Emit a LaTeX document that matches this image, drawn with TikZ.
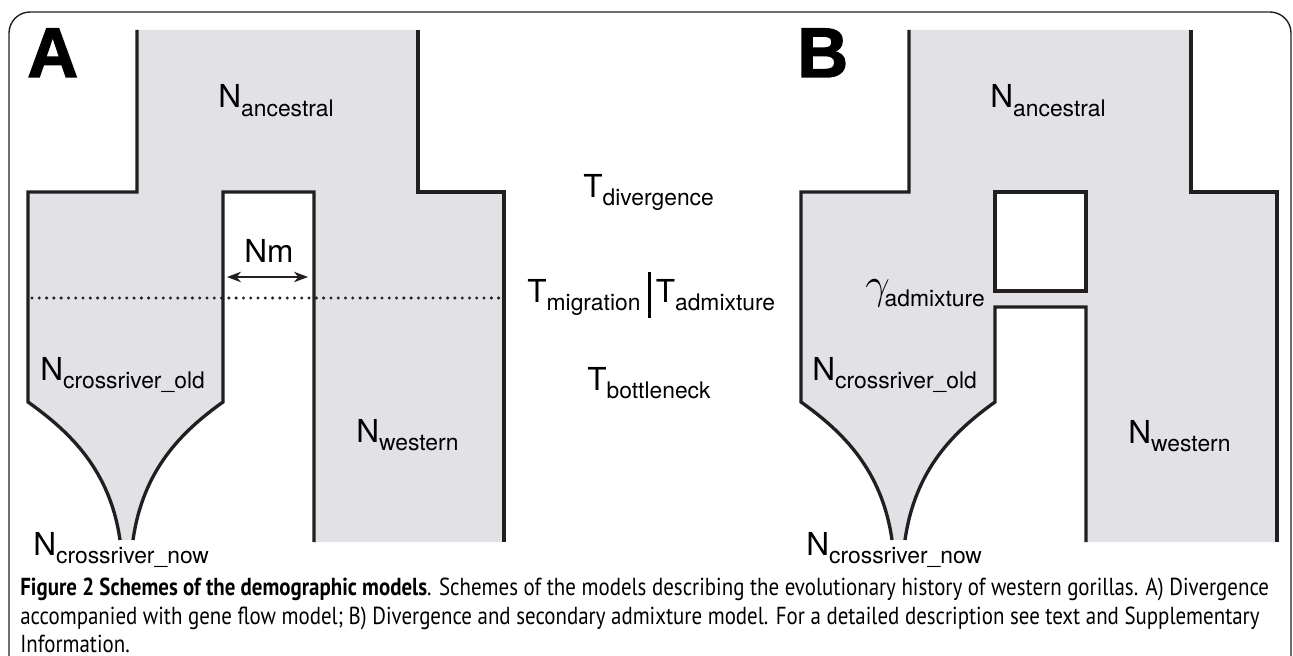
\documentclass[tikz,border=0pt]{standalone}
\usepackage{fontspec}
\setmainfont{TeX Gyre Heros}
\newfontfamily\capfont[FakeStretch=0.85]{PT Sans}
\newfontfamily\panelfont[FakeBold=2]{Liberation Sans Bold}
\usetikzlibrary{arrows.meta}

\definecolor{popgrey}{HTML}{E2E1E6}
\definecolor{wallgrey}{HTML}{231F20}

% population label: big letter with a lowered subscript
\newcommand{\poplab}[2]{{\fontsize{18}{20}\selectfont #1}\raisebox{-5pt}{\fontsize{13}{15}\selectfont #2}}

\begin{document}
\begin{tikzpicture}[x=0.02cm, y=-0.02cm,
  pop/.style = {fill=popgrey},
  wall/.style = {draw=wallgrey, line width=1.9pt, line join=miter},
  lab/.style = {anchor=base west, inner sep=0pt}]
\useasboundingbox (0,0) rectangle (1293,655);
\clip (0,0) rectangle (1293,655);

% frame
\draw[wallgrey, line width=0.8pt, rounded corners=12] (9,700) -- (9,12) -- (1291,12) -- (1291,700);

% panel A
\fill[pop] (137,30) -- (418,30) -- (418,192) -- (504,192) -- (504,542) -- (314,542) -- (314,192) -- (223,192) -- (223,402)
  .. controls (181,432) and (143,470) .. (133,540) -- (120,540)
  .. controls (110,470) and (70,432) .. (28,402) -- (28,192) -- (137,192) -- cycle;
\draw[wall] (137,30) -- (137,192) -- (28,192) -- (28,402) .. controls (70,432) and (110,470) .. (120,540);
\draw[wall] (133,540) .. controls (143,470) and (181,432) .. (223,402) -- (223,192) -- (314,192) -- (314,542);
\draw[wall] (418,30) -- (418,192) -- (504,192) -- (504,542);

\coordinate (dotA) at (32,298);
\coordinate (dotB) at (504,298);
\draw[wallgrey, line width=1.9pt, line cap=round, dash pattern=on 0pt off 4.15pt] (dotA) -- (dotB);

\coordinate (nmL) at (227,277);
\coordinate (nmR) at (308,277);
\draw[wallgrey, line width=0.9pt, {Stealth[length=8pt,width=6pt,inset=2.5pt]}-{Stealth[length=8pt,width=6pt,inset=2.5pt]}] (nmL) -- (nmR);

\node[lab] (la) at (27,77) {\fontsize{40}{40}\selectfont\panelfont A};
\node[lab] (ancA) at (218,108) {\poplab{N}{ancestral}};
\node[anchor=base, inner sep=0pt] (nm) at (269,262) {\fontsize{18}{20}\selectfont Nm};
\node[lab] (oldA) at (40,380) {\poplab{N}{crossriver\_old}};
\node[lab] (nowA) at (33,555) {\poplab{N}{crossriver\_now}};
\node[lab] (wesA) at (356,442) {\poplab{N}{western}};

% times
\node[lab] (tdiv) at (583,197) {\poplab{T}{divergence}};
\node[lab] (tmig) at (527,302) {\poplab{T}{migration}\hspace{4pt}\rule[-9pt]{1.7pt}{26pt}\hspace{3pt}\poplab{T}{admixture}};
\node[lab] (tbot) at (587,390) {\poplab{T}{bottleneck}};

% panel B
\fill[pop] (909,30) -- (1191,30) -- (1191,192) -- (1277,192) -- (1277,542) -- (1086,542) -- (1086,307) -- (995,307) -- (995,402)
  .. controls (953,432) and (915,470) .. (905,540) -- (892,540)
  .. controls (882,470) and (843,432) .. (801,402) -- (801,192) -- (909,192) -- cycle;
\draw[wall] (909,30) -- (909,192) -- (801,192) -- (801,402) .. controls (843,432) and (882,470) .. (892,540);
\draw[wall] (905,540) .. controls (915,470) and (953,432) .. (995,402) -- (995,307) -- (1086,307) -- (1086,542);
\draw[wall] (1191,30) -- (1191,192) -- (1277,192) -- (1277,542);
\draw[wall, fill=white] (995,192) rectangle (1086,291);

\node[lab] (lb) at (797,77) {\fontsize{40}{40}\selectfont\panelfont B};
\node[lab] (ancB) at (990,108) {\poplab{N}{ancestral}};
\node[lab] (gam) at (865,298) {\poplab{\fontsize{30}{30}\selectfont$\gamma$\kern-3pt}{admixture}};
\node[lab] (oldB) at (812,380) {\poplab{N}{crossriver\_old}};
\node[lab] (nowB) at (806,555) {\poplab{N}{crossriver\_now}};
\node[lab] (wesB) at (1128,443) {\poplab{N}{western}};

% caption
\node[anchor=north west, inner sep=0pt, align=left, font=\capfont\fontsize{14}{15.3}\selectfont] (cap) at (20,578)
  {\textbf{Figure 2 Schemes of the demographic models}. Schemes of the models describing the evolutionary history of western gorillas. A) Divergence\\[0.8pt]
   accompanied with gene flow model; B) Divergence and secondary admixture model. For a detailed description see text and Supplementary\\[0.8pt]
   Information.};
\end{tikzpicture}
\end{document}
